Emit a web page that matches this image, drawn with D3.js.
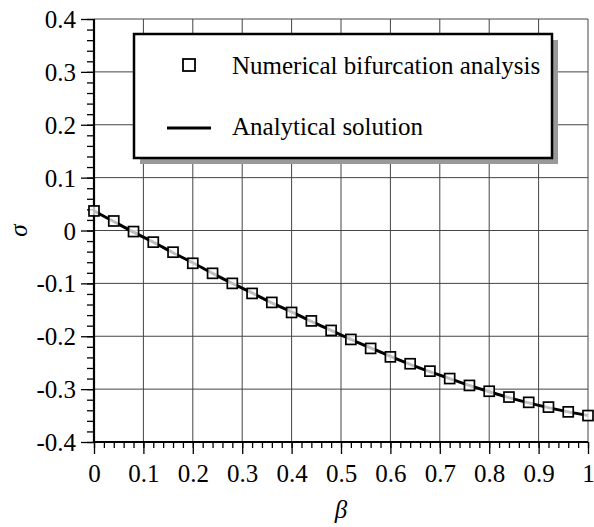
<!DOCTYPE html>
<html>
<head>
<meta charset="utf-8">
<script src="https://cdn.jsdelivr.net/npm/d3@7"></script>
<style>
	body { margin: 0; background: #fff; }
</style>
</head>
<body>
<script>
// numerical bifurcation analysis (squares)
var beta = [0, 0.04, 0.08, 0.12, 0.16, 0.2, 0.24, 0.28, 0.32, 0.36, 0.4, 0.44, 0.48,
	0.52, 0.56, 0.6, 0.64, 0.68, 0.72, 0.76, 0.8, 0.84, 0.88, 0.92, 0.96, 1];
var sigmaNum = [0.037, 0.018, -0.002, -0.022, -0.041, -0.062, -0.081, -0.100, -0.119, -0.136,
	-0.155, -0.171, -0.189, -0.206, -0.223, -0.239, -0.252, -0.266, -0.280, -0.293,
	-0.304, -0.315, -0.325, -0.334, -0.343, -0.350];
// analytical solution (line)
var sigmaAna = [0.037, 0.017, -0.003, -0.022, -0.042, -0.061, -0.081, -0.100, -0.118, -0.137,
	-0.154, -0.172, -0.189, -0.206, -0.222, -0.238, -0.253, -0.267, -0.280, -0.293,
	-0.305, -0.316, -0.326, -0.335, -0.343, -0.350];

var xTicks = [0, 0.1, 0.2, 0.3, 0.4, 0.5, 0.6, 0.7, 0.8, 0.9, 1];
var yTicks = [-0.4, -0.3, -0.2, -0.1, 0, 0.1, 0.2, 0.3, 0.4];
var legendLabels = ["Numerical bifurcation analysis", "Analytical solution"];

var FONT = "'Liberation Serif', 'Times New Roman', Tinos, 'DejaVu Serif', serif";
var FS = "25px";

var W = 594, H = 527;
var margin = {top: 19, right: 6, bottom: 85, left: 94};
var width = W - margin.left - margin.right,
	height = H - margin.top - margin.bottom;

var svg = d3.select("body").append("svg")
	.attr("width", W)
	.attr("height", H)
	.style("font-family", FONT);

var g = svg.append("g")
	.attr("transform", "translate(" + margin.left + "," + margin.top + ")");

var x = d3.scaleLinear().domain([0, 1]).range([0, width]);
var y = d3.scaleLinear().domain([-0.4, 0.4]).range([height, 0]);

// plain hyphen minus like the original
var fmt = function(d){ return String(+d.toFixed(1)); };

// grid
g.append("g").attr("class", "grid")
	.selectAll("line")
	.data(xTicks.slice(1))
	.enter().append("line")
	.attr("x1", function(d){ return x(d); })
	.attr("x2", function(d){ return x(d); })
	.attr("y1", 0).attr("y2", height)
	.attr("stroke", "#444").attr("stroke-width", 1);

g.append("g").attr("class", "grid")
	.selectAll("line")
	.data(yTicks.slice(1))
	.enter().append("line")
	.attr("x1", 0).attr("x2", width)
	.attr("y1", function(d){ return y(d); })
	.attr("y2", function(d){ return y(d); })
	.attr("stroke", "#444").attr("stroke-width", 1);

// axes with minor ticks
var xMinor = d3.range(0, 51).map(function(i){ return i / 50; });
var yMinor = d3.range(0, 41).map(function(i){ return -0.4 + i / 50; });

var xAxisMinor = g.append("g")
	.attr("transform", "translate(0," + height + ")")
	.call(d3.axisBottom(x).tickValues(xMinor).tickSize(6).tickFormat(""));
var xAxis = g.append("g")
	.attr("transform", "translate(0," + height + ")")
	.call(d3.axisBottom(x).tickValues(xTicks).tickSize(12).tickPadding(10).tickFormat(fmt));

var yAxisMinor = g.append("g")
	.call(d3.axisLeft(y).tickValues(yMinor).tickSize(7).tickFormat(""));
var yAxis = g.append("g")
	.call(d3.axisLeft(y).tickValues(yTicks).tickSize(13).tickPadding(5).tickFormat(fmt));

[xAxisMinor, xAxis, yAxisMinor, yAxis].forEach(function(a){
	a.attr("font-family", null).attr("font-size", null);
	a.select(".domain").remove();
	a.selectAll(".tick line").attr("stroke", "#000").attr("stroke-width", 1.3);
	a.selectAll(".tick text")
		.style("font-family", FONT)
		.style("font-size", FS)
		.attr("fill", "#000");
});
yAxis.selectAll(".tick text").attr("dy", "0.34em");

// axis lines
g.append("line")
	.attr("x1", 0).attr("x2", width)
	.attr("y1", height).attr("y2", height)
	.attr("stroke", "#000").attr("stroke-width", 2.2);
g.append("line")
	.attr("x1", 0).attr("x2", 0)
	.attr("y1", 0).attr("y2", height)
	.attr("stroke", "#000").attr("stroke-width", 2.2);

// axis titles
svg.append("text")
	.attr("x", margin.left + x(0.5))
	.attr("y", 518)
	.attr("text-anchor", "middle")
	.style("font-size", FS)
	.style("font-style", "italic")
	.text("β");

svg.append("text")
	.attr("transform", "translate(27," + (margin.top + y(0)) + ") rotate(-90)")
	.attr("text-anchor", "middle")
	.style("font-size", FS)
	.style("font-style", "italic")
	.text("σ");

// analytical line
var line = d3.line()
	.x(function(d, i){ return x(beta[i]); })
	.y(function(d){ return y(d); })
	.curve(d3.curveMonotoneX);

g.append("path")
	.datum(sigmaAna)
	.attr("fill", "none")
	.attr("stroke", "#000")
	.attr("stroke-width", 3)
	.attr("d", line);

// numerical squares
var sq = 10;
g.append("g")
	.selectAll("rect")
	.data(sigmaNum)
	.enter().append("rect")
	.attr("x", function(d, i){ return x(beta[i]) - sq / 2; })
	.attr("y", function(d){ return y(d) - sq / 2; })
	.attr("width", sq).attr("height", sq)
	.attr("fill", "#fff").attr("fill-opacity", 0.75)
	.attr("stroke", "#000").attr("stroke-width", 1.7);

// legend
var lg = svg.append("g").attr("transform", "translate(134,34)");
var lw = 418, lh = 124;
lg.append("rect")
	.attr("x", 6).attr("y", 6)
	.attr("width", lw).attr("height", lh)
	.attr("fill", "#999");
lg.append("rect")
	.attr("width", lw).attr("height", lh)
	.attr("fill", "#fff")
	.attr("stroke", "#000").attr("stroke-width", 2.5);

lg.append("rect")
	.attr("x", 55 - 6).attr("y", 31 - 6)
	.attr("width", 12).attr("height", 12)
	.attr("fill", "#fff")
	.attr("stroke", "#000").attr("stroke-width", 1.8);
lg.append("line")
	.attr("x1", 33).attr("x2", 77)
	.attr("y1", 94).attr("y2", 94)
	.attr("stroke", "#000").attr("stroke-width", 3);

lg.selectAll("text.lab")
	.data(legendLabels)
	.enter().append("text")
	.attr("class", "lab")
	.attr("x", 98)
	.attr("y", function(d, i){ return i == 0 ? 40 : 101; })
	.style("font-size", FS)
	.text(function(d){ return d; });
</script>
</body>
</html>
